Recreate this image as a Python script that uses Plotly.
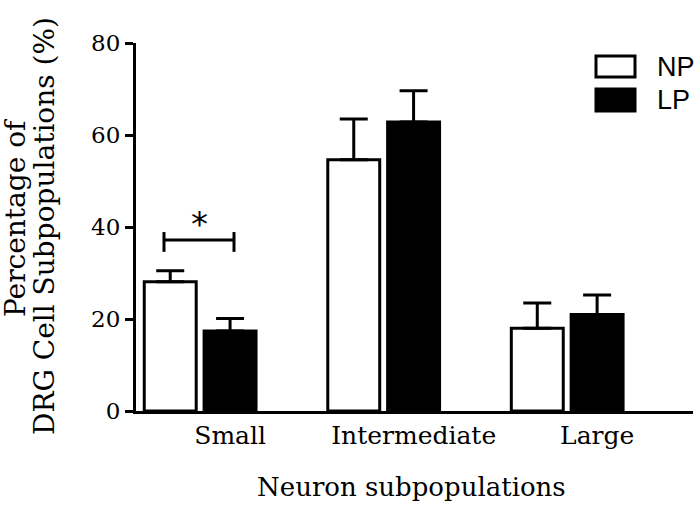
import plotly.graph_objects as go

# ---- data ----
categories = ["Small", "Intermediate", "Large"]
np_values = [28.1, 54.6, 18.0]
np_sem = [2.4, 8.9, 5.5]
lp_values = [17.4, 62.8, 21.0]
lp_sem = [2.7, 6.8, 4.2]
series_names = ["NP", "LP"]
y_ticks = [0, 20, 40, 60, 80]
sig_label = "*"

W, H = 700, 508
L, R, T, B = 136, 7, 43, 97
pw, ph = W - L - R, H - T - B

x = list(range(len(categories)))
bw = 0.283
np_off = -0.305
lp_off = 0.021

def px2paper_x(px):
    return (px - L) / pw

def px2paper_y(py):
    return (H - B - py) / ph

fig = go.Figure()
fig.add_trace(go.Bar(
    x=x, y=np_values, width=bw, offset=np_off, name=series_names[0],
    marker=dict(color="white", line=dict(color="black", width=3)),
    error_y=dict(type="data", array=np_sem, arrayminus=[0]*3, symmetric=False,
                 color="black", thickness=3, width=14),
    showlegend=False,
))
fig.add_trace(go.Bar(
    x=x, y=lp_values, width=bw, offset=lp_off, name=series_names[1],
    marker=dict(color="black", line=dict(color="black", width=3)),
    error_y=dict(type="data", array=lp_sem, arrayminus=[0]*3, symmetric=False,
                 color="black", thickness=3, width=14),
    showlegend=False,
))

serif = "DejaVu Serif"
fig.update_layout(
    width=W, height=H, margin=dict(l=L, r=R, t=T, b=B),
    paper_bgcolor="white", plot_bgcolor="white",
    barmode="overlay",
    xaxis=dict(range=[-0.350, 2.685], showgrid=False, zeroline=False,
               showline=True, linecolor="black", linewidth=3,
               tickvals=[i + 0.163 for i in x], ticktext=categories,
               ticks="", tickfont=dict(family=serif, size=25, color="black")),
    yaxis=dict(range=[0, 80], tickvals=y_ticks, showgrid=False, zeroline=False,
               showline=True, linecolor="black", linewidth=3,
               ticks="outside", ticklen=8, tickwidth=3, tickcolor="black",
               tickfont=dict(family=serif, size=23, color="black")),
)

# y title (two lines)
fig.add_annotation(text="Percentage of", xref="paper", yref="paper",
                   x=px2paper_x(16), y=px2paper_y(218), xanchor="center", yanchor="middle",
                   textangle=-90, showarrow=False,
                   font=dict(family=serif, size=28, color="black"))
fig.add_annotation(text="DRG Cell Subpopulations (%)", xref="paper", yref="paper",
                   x=px2paper_x(44), y=px2paper_y(226), xanchor="center", yanchor="middle",
                   textangle=-90, showarrow=False,
                   font=dict(family=serif, size=28, color="black"))
# x title
fig.add_annotation(text="Neuron subpopulations", xref="paper", yref="paper",
                   x=px2paper_x(411), y=px2paper_y(487), xanchor="center", yanchor="middle",
                   showarrow=False, font=dict(family=serif, size=26, color="black"))

# significance bracket
bx0, bx1, by, bt0, bt1 = -0.1975, 0.184, 37.2, 34.6, 38.9
line = dict(color="black", width=3)
fig.add_shape(type="line", xref="x", yref="y", x0=bx0, x1=bx1, y0=by, y1=by, line=line)
fig.add_shape(type="line", xref="x", yref="y", x0=bx0, x1=bx0, y0=bt0, y1=bt1, line=line)
fig.add_shape(type="line", xref="x", yref="y", x0=bx1, x1=bx1, y0=bt0, y1=bt1, line=line)
fig.add_annotation(text=sig_label, xref="x", yref="y", x=(bx0 + bx1) / 2, y=40.6,
                   xanchor="center", yanchor="middle", showarrow=False,
                   font=dict(family="DejaVu Sans", size=34, color="black"))

# legend (drawn manually to match large swatches)
sw = [(56, 77, "white"), (89, 111, "black")]
for (y0, y1, col), name in zip(sw, series_names):
    fig.add_shape(type="rect", xref="paper", yref="paper",
                  x0=px2paper_x(596), x1=px2paper_x(635),
                  y0=px2paper_y(y1), y1=px2paper_y(y0),
                  fillcolor=col, line=dict(color="black", width=3))
    fig.add_annotation(text=name, xref="paper", yref="paper",
                       x=px2paper_x(655), y=px2paper_y((y0 + y1) / 2),
                       xanchor="left", yanchor="middle", showarrow=False,
                       font=dict(family="Liberation Sans", size=27, color="black"))

fig.write_html("out.html", config={"displayModeBar": False},
               post_script="document.body.style.margin='0px';")
